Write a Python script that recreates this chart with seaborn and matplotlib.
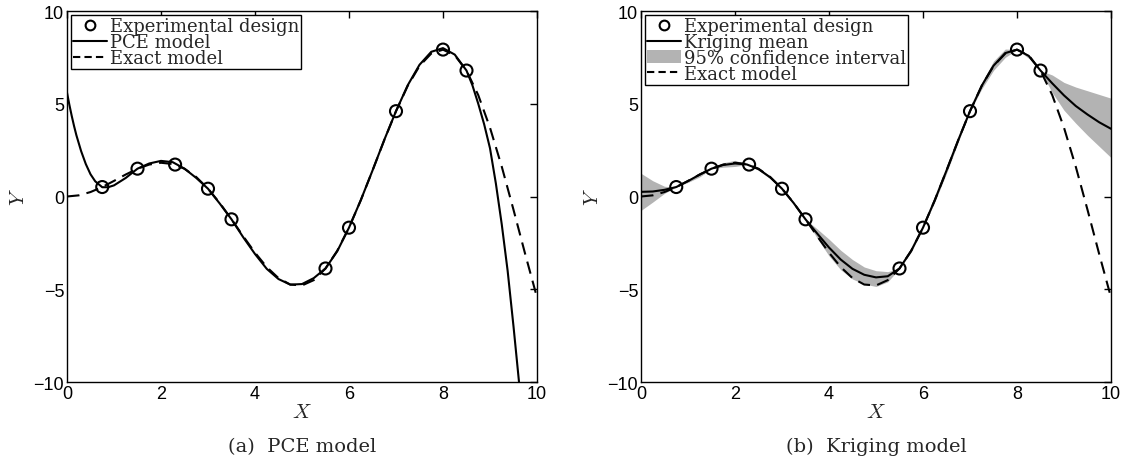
import numpy as np
import pandas as pd
import seaborn as sns
import matplotlib
matplotlib.use("Agg")
import matplotlib.pyplot as plt
from matplotlib.lines import Line2D
from matplotlib.patches import Patch

# ---------------- data ----------------
x_grid = [0.0, 0.25, 0.5, 0.75, 1.0, 1.25, 1.5, 1.75, 2.0, 2.25, 2.5, 2.75, 3.0, 3.25,
          3.5, 3.75, 4.0, 4.25, 4.5, 4.75, 5.0, 5.25, 5.5, 5.75, 6.0, 6.25, 6.5, 6.75,
          7.0, 7.25, 7.5, 7.75, 8.0, 8.25, 8.5, 8.75, 9.0, 9.25, 9.5, 9.75, 10.0]

exact_model = [0.0, 0.062, 0.240, 0.511, 0.841, 1.186, 1.496, 1.722, 1.819, 1.751, 1.496,
               1.050, 0.423, -0.352, -1.228, -2.144, -3.027, -3.804, -4.399, -4.747,
               -4.795, -4.509, -3.880, -2.923, -1.677, -0.207, 1.398, 3.038, 4.599, 5.968,
               7.035, 7.708, 7.915, 7.610, 6.787, 5.466, 3.709, 1.612, -0.714, -3.115, -5.440]

pce_x = [0.0, 0.05, 0.1, 0.15, 0.2, 0.3, 0.4, 0.5, 0.6, 0.75, 0.875, 1.0, 1.25, 1.5, 1.75,
         2.0, 2.25, 2.5, 2.75, 3.0, 3.25, 3.5, 3.75, 4.0, 4.25, 4.5, 4.75, 5.0, 5.25, 5.5,
         5.75, 6.0, 6.25, 6.5, 6.75, 7.0, 7.25, 7.5, 7.75, 8.0, 8.25, 8.5, 8.625, 8.75,
         8.875, 9.0, 9.125, 9.25, 9.375, 9.5, 9.625, 9.75]

pce_model = [5.6, 4.95, 4.35, 3.8, 3.3, 2.45, 1.75, 1.2, 0.82, 0.5, 0.5, 0.6, 1.0, 1.5,
             1.78, 1.92, 1.85, 1.5, 1.0, 0.42, -0.38, -1.23, -2.2, -3.1, -3.9, -4.45, -4.75,
             -4.72, -4.4, -3.88, -2.95, -1.68, -0.2, 1.4, 3.05, 4.6, 6.0, 7.1, 7.8, 8.0, 7.65,
             6.79, 6.0, 5.0, 3.9, 2.6, 0.7, -1.5, -4.0, -7.0, -10.2, -14.0]

kriging_mean = [0.25, 0.27, 0.36, 0.51, 0.83, 1.18, 1.5, 1.7, 1.78, 1.73, 1.48, 1.03, 0.42,
                -0.36, -1.23, -2.0, -2.75, -3.4, -3.9, -4.22, -4.36, -4.3, -3.88, -2.92,
                -1.68, -0.2, 1.4, 3.04, 4.6, 5.97, 7.05, 7.73, 7.92, 7.58, 6.79, 6.1, 5.45,
                4.88, 4.42, 4.0, 3.65]

kriging_upper = [1.25, 0.85, 0.55, 0.51, 0.9, 1.3, 1.5, 1.82, 1.95, 1.74, 1.55, 1.1, 0.42,
                 -0.3, -1.23, -1.75, -2.3, -2.9, -3.4, -3.8, -4.0, -4.05, -3.88, -2.85,
                 -1.68, -0.1, 1.55, 3.15, 4.6, 6.15, 7.3, 7.95, 7.92, 7.65, 6.79, 6.55, 6.15,
                 5.9, 5.7, 5.5, 5.3]

kriging_lower = [-0.75, -0.3, 0.17, 0.51, 0.76, 1.06, 1.5, 1.58, 1.62, 1.72, 1.41, 0.96,
                 0.42, -0.42, -1.23, -2.25, -3.2, -3.95, -4.45, -4.72, -4.85, -4.6, -3.88,
                 -3.0, -1.68, -0.3, 1.25, 2.93, 4.6, 5.8, 6.8, 7.5, 7.92, 7.45, 6.79, 5.6,
                 4.65, 3.95, 3.3, 2.7, 2.1]

design_x = [0.75, 1.5, 2.3, 3.0, 3.5, 5.5, 6.0, 7.0, 8.0, 8.5]
design_y = [0.51, 1.50, 1.72, 0.42, -1.23, -3.88, -1.68, 4.60, 7.92, 6.79]

captions = ["(a)  PCE model", "(b)  Kriging model"]

# ---------------- style ----------------
sns.set_theme(style="white")
plt.rcParams["font.family"] = ["Liberation Sans", "DejaVu Sans"]
plt.rcParams["mathtext.fontset"] = "cm"
plt.rcParams["axes.linewidth"] = 1.0
plt.rcParams["axes.edgecolor"] = "black"

fig = plt.figure(figsize=(11.26, 4.77), dpi=100)
W, H = 1126, 477
ax1 = fig.add_axes([67 / W, 1 - 383 / H, 470 / W, 371 / H])
ax2 = fig.add_axes([641 / W, 1 - 383 / H, 470 / W, 371 / H])

lw = 1.5
dash = (0, (6, 3.5))

# Left: PCE
sns.lineplot(x=pce_x, y=pce_model, ax=ax1, color="black", lw=lw, sort=False)
sns.lineplot(x=x_grid, y=exact_model, ax=ax1, color="black", lw=lw, linestyle=dash, sort=False)
sns.scatterplot(x=design_x, y=design_y, ax=ax1, s=75, facecolor="none",
                edgecolor="black", linewidth=1.5, zorder=5)

# Right: Kriging
ax2.fill_between(x_grid, kriging_lower, kriging_upper, color="#b3b3b3", linewidth=0, zorder=1)
sns.lineplot(x=x_grid, y=kriging_mean, ax=ax2, color="black", lw=lw, sort=False, zorder=3)
sns.lineplot(x=x_grid, y=exact_model, ax=ax2, color="black", lw=lw, linestyle=dash,
             sort=False, zorder=3)
sns.scatterplot(x=design_x, y=design_y, ax=ax2, s=75, facecolor="none",
                edgecolor="black", linewidth=1.5, zorder=5)

circle_h = Line2D([], [], marker="o", ls="none", mfc="none", mec="black", mew=1.5, ms=7)
solid_h = Line2D([], [], color="black", lw=lw)
dash_h = Line2D([], [], color="black", lw=lw, linestyle=(0, (3.5, 2)))
band_h = Patch(facecolor="#b3b3b3", edgecolor="none")

leg_kw = dict(loc="upper left", bbox_to_anchor=(0.008, 0.988), frameon=True, fancybox=False,
              edgecolor="black", framealpha=1, handlelength=1.9, handletextpad=0.15,
              borderpad=0.1, labelspacing=-0.12, borderaxespad=0.0,
              prop={"family": "DejaVu Serif", "size": 13})

l1 = ax1.legend([circle_h, solid_h, dash_h],
                ["Experimental design", "PCE model", "Exact model"], **leg_kw)
l2 = ax2.legend([circle_h, solid_h, band_h, dash_h],
                ["Experimental design", "Kriging mean", "95% confidence interval", "Exact model"],
                **leg_kw)
for l in (l1, l2):
    l.get_frame().set_linewidth(1.0)

for ax, cap in zip((ax1, ax2), captions):
    ax.set_xlim(0, 10)
    ax.set_ylim(-10, 10)
    ax.set_xticks([0, 2, 4, 6, 8, 10])
    ax.set_yticks([-10, -5, 0, 5, 10])
    ax.tick_params(direction="in", top=True, right=True, length=5, width=1.0,
                   labelsize=13, pad=2, colors="black")
    ax.set_xlabel(r"$X$", fontsize=15, labelpad=0)
    ax.set_ylabel(r"$Y$", fontsize=15, labelpad=4)
    for sp in ax.spines.values():
        sp.set_visible(True)
        sp.set_color("black")
    bb = ax.get_position()
    fig.text(bb.x0 + bb.width / 2, 1 - 447 / H, cap, ha="center", va="center",
             fontsize=14, family=["DejaVu Serif"])

fig.savefig("out.png", dpi=100)
